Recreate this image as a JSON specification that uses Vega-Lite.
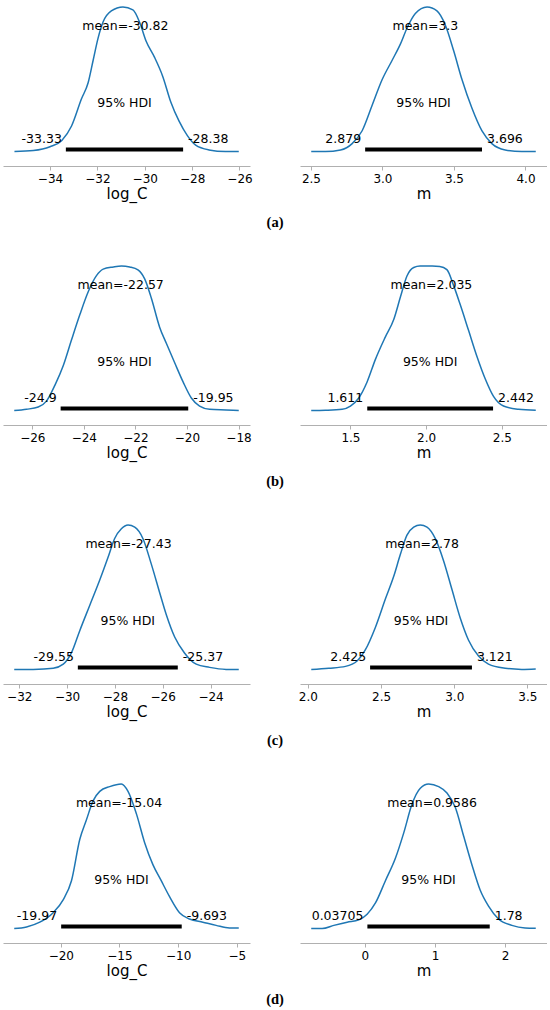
{
  "$schema": "https://vega.github.io/schema/vega-lite/v6.json",
  "background": "white",
  "padding": {"left": 3, "top": 4, "right": 0, "bottom": 0},
  "datasets": {
    "kde": [
      {"panel":"a1","x":-35.5,"density":0},{"panel":"a1","x":-34.7,"density":0.007},{"panel":"a1","x":-34.0,"density":0.033},{"panel":"a1","x":-33.5,"density":0.077},{"panel":"a1","x":-33.09,"density":0.177},{"panel":"a1","x":-32.67,"density":0.365},{"panel":"a1","x":-32.39,"density":0.476},{"panel":"a1","x":-32.18,"density":0.63},{"panel":"a1","x":-31.97,"density":0.785},{"panel":"a1","x":-31.76,"density":0.896},{"panel":"a1","x":-31.41,"density":0.973},{"panel":"a1","x":-30.92,"density":1.0},{"panel":"a1","x":-30.5,"density":0.98},{"panel":"a1","x":-30.22,"density":0.896},{"panel":"a1","x":-29.94,"density":0.763},{"panel":"a1","x":-29.59,"density":0.653},{"panel":"a1","x":-29.24,"density":0.52},{"panel":"a1","x":-28.9,"density":0.343},{"panel":"a1","x":-28.55,"density":0.21},{"panel":"a1","x":-28.2,"density":0.11},{"panel":"a1","x":-27.85,"density":0.044},{"panel":"a1","x":-27.29,"density":0.011},{"panel":"a1","x":-26.59,"density":0},{"panel":"a1","x":-26.03,"density":0},
      {"panel":"a2","x":2.502,"density":0},{"panel":"a2","x":2.602,"density":0},{"panel":"a2","x":2.707,"density":0.011},{"panel":"a2","x":2.788,"density":0.055},{"panel":"a2","x":2.858,"density":0.144},{"panel":"a2","x":2.928,"density":0.32},{"panel":"a2","x":2.998,"density":0.498},{"panel":"a2","x":3.067,"density":0.63},{"panel":"a2","x":3.126,"density":0.745},{"panel":"a2","x":3.172,"density":0.855},{"panel":"a2","x":3.23,"density":0.955},{"panel":"a2","x":3.312,"density":1.0},{"panel":"a2","x":3.381,"density":0.973},{"panel":"a2","x":3.44,"density":0.874},{"panel":"a2","x":3.498,"density":0.697},{"panel":"a2","x":3.556,"density":0.498},{"panel":"a2","x":3.626,"density":0.299},{"panel":"a2","x":3.695,"density":0.144},{"panel":"a2","x":3.765,"density":0.055},{"panel":"a2","x":3.858,"density":0.011},{"panel":"a2","x":3.974,"density":0},{"panel":"a2","x":4.072,"density":0},
      {"panel":"b1","x":-26.7,"density":0},{"panel":"b1","x":-26.22,"density":0.009},{"panel":"b1","x":-25.77,"density":0.024},{"panel":"b1","x":-25.45,"density":0.065},{"panel":"b1","x":-25.12,"density":0.176},{"panel":"b1","x":-24.8,"density":0.31},{"panel":"b1","x":-24.48,"density":0.488},{"panel":"b1","x":-24.15,"density":0.666},{"panel":"b1","x":-23.83,"density":0.822},{"panel":"b1","x":-23.51,"density":0.933},{"panel":"b1","x":-23.25,"density":0.978},{"panel":"b1","x":-22.86,"density":0.993},{"panel":"b1","x":-22.54,"density":1.0},{"panel":"b1","x":-22.22,"density":0.993},{"panel":"b1","x":-21.9,"density":0.973},{"panel":"b1","x":-21.64,"density":0.911},{"panel":"b1","x":-21.38,"density":0.777},{"panel":"b1","x":-21.06,"density":0.577},{"panel":"b1","x":-20.8,"density":0.465},{"panel":"b1","x":-20.48,"density":0.332},{"panel":"b1","x":-20.15,"density":0.198},{"panel":"b1","x":-19.83,"density":0.087},{"panel":"b1","x":-19.51,"density":0.031},{"panel":"b1","x":-19.12,"density":0.009},{"panel":"b1","x":-18.48,"density":0.004},{"panel":"b1","x":-17.99,"density":0},
      {"panel":"b2","x":1.241,"density":0},{"panel":"b2","x":1.335,"density":0.002},{"panel":"b2","x":1.445,"density":0.009},{"panel":"b2","x":1.5,"density":0.031},{"panel":"b2","x":1.555,"density":0.087},{"panel":"b2","x":1.61,"density":0.198},{"panel":"b2","x":1.665,"density":0.354},{"panel":"b2","x":1.731,"density":0.51},{"panel":"b2","x":1.786,"density":0.63},{"panel":"b2","x":1.83,"density":0.785},{"panel":"b2","x":1.874,"density":0.933},{"panel":"b2","x":1.918,"density":0.99},{"panel":"b2","x":1.96,"density":1.0},{"panel":"b2","x":2.04,"density":1.0},{"panel":"b2","x":2.09,"density":0.997},{"panel":"b2","x":2.137,"density":0.975},{"panel":"b2","x":2.181,"density":0.866},{"panel":"b2","x":2.225,"density":0.733},{"panel":"b2","x":2.28,"density":0.555},{"panel":"b2","x":2.335,"density":0.376},{"panel":"b2","x":2.39,"density":0.22},{"panel":"b2","x":2.445,"density":0.098},{"panel":"b2","x":2.511,"density":0.031},{"panel":"b2","x":2.61,"density":0.009},{"panel":"b2","x":2.724,"density":0.002},
      {"panel":"c1","x":-32.21,"density":0},{"panel":"c1","x":-31.42,"density":0.001},{"panel":"c1","x":-30.58,"density":0.009},{"panel":"c1","x":-30.16,"density":0.037},{"panel":"c1","x":-29.82,"density":0.115},{"panel":"c1","x":-29.47,"density":0.269},{"panel":"c1","x":-29.05,"density":0.445},{"panel":"c1","x":-28.63,"density":0.621},{"panel":"c1","x":-28.29,"density":0.775},{"panel":"c1","x":-28.01,"density":0.907},{"panel":"c1","x":-27.73,"density":0.974},{"panel":"c1","x":-27.45,"density":1.0},{"panel":"c1","x":-27.17,"density":0.985},{"panel":"c1","x":-26.83,"density":0.907},{"panel":"c1","x":-26.48,"density":0.731},{"panel":"c1","x":-26.13,"density":0.533},{"panel":"c1","x":-25.85,"density":0.379},{"panel":"c1","x":-25.5,"density":0.225},{"panel":"c1","x":-25.09,"density":0.115},{"panel":"c1","x":-24.6,"density":0.037},{"panel":"c1","x":-24.04,"density":0.015},{"panel":"c1","x":-23.35,"density":0.001},{"panel":"c1","x":-22.82,"density":0},
      {"panel":"c2","x":2.023,"density":0},{"panel":"c2","x":2.143,"density":0.009},{"panel":"c2","x":2.257,"density":0.022},{"panel":"c2","x":2.336,"density":0.059},{"panel":"c2","x":2.393,"density":0.137},{"panel":"c2","x":2.461,"density":0.291},{"panel":"c2","x":2.53,"density":0.489},{"panel":"c2","x":2.586,"density":0.643},{"panel":"c2","x":2.632,"density":0.797},{"panel":"c2","x":2.677,"density":0.93},{"panel":"c2","x":2.723,"density":0.985},{"panel":"c2","x":2.768,"density":1.0},{"panel":"c2","x":2.814,"density":0.985},{"panel":"c2","x":2.87,"density":0.907},{"panel":"c2","x":2.927,"density":0.753},{"panel":"c2","x":2.984,"density":0.555},{"panel":"c2","x":3.041,"density":0.357},{"panel":"c2","x":3.098,"density":0.203},{"panel":"c2","x":3.166,"density":0.093},{"panel":"c2","x":3.234,"density":0.037},{"panel":"c2","x":3.348,"density":0.009},{"panel":"c2","x":3.461,"density":0.001},{"panel":"c2","x":3.557,"density":0.004},
      {"panel":"d1","x":-23.97,"density":0},{"panel":"d1","x":-22.92,"density":0.011},{"panel":"d1","x":-21.79,"density":0.044},{"panel":"d1","x":-20.65,"density":0.11},{"panel":"d1","x":-19.8,"density":0.199},{"panel":"d1","x":-19.09,"density":0.331},{"panel":"d1","x":-18.38,"density":0.618},{"panel":"d1","x":-17.82,"density":0.751},{"panel":"d1","x":-17.25,"density":0.883},{"panel":"d1","x":-16.68,"density":0.949},{"panel":"d1","x":-15.83,"density":0.982},{"panel":"d1","x":-14.84,"density":1.0},{"panel":"d1","x":-14.27,"density":0.949},{"panel":"d1","x":-13.56,"density":0.795},{"panel":"d1","x":-12.86,"density":0.596},{"panel":"d1","x":-12.15,"density":0.442},{"panel":"d1","x":-11.44,"density":0.331},{"panel":"d1","x":-10.73,"density":0.221},{"panel":"d1","x":-9.88,"density":0.11},{"panel":"d1","x":-9.03,"density":0.066},{"panel":"d1","x":-7.89,"density":0.044},{"panel":"d1","x":-6.76,"density":0.022},{"panel":"d1","x":-5.63,"density":0.004},{"panel":"d1","x":-4.83,"density":0.004},
      {"panel":"d2","x":-0.763,"density":0},{"panel":"d2","x":-0.607,"density":0},{"panel":"d2","x":-0.441,"density":0.022},{"panel":"d2","x":-0.251,"density":0.044},{"panel":"d2","x":-0.085,"density":0.06},{"panel":"d2","x":0.033,"density":0.099},{"panel":"d2","x":0.152,"density":0.177},{"panel":"d2","x":0.294,"density":0.331},{"panel":"d2","x":0.436,"density":0.486},{"panel":"d2","x":0.555,"density":0.662},{"panel":"d2","x":0.673,"density":0.861},{"panel":"d2","x":0.791,"density":0.971},{"panel":"d2","x":0.91,"density":1.0},{"panel":"d2","x":1.052,"density":0.982},{"panel":"d2","x":1.171,"density":0.938},{"panel":"d2","x":1.289,"density":0.839},{"panel":"d2","x":1.408,"density":0.64},{"panel":"d2","x":1.526,"density":0.442},{"panel":"d2","x":1.645,"density":0.265},{"panel":"d2","x":1.763,"density":0.155},{"panel":"d2","x":1.905,"density":0.066},{"panel":"d2","x":2.095,"density":0.022},{"panel":"d2","x":2.284,"density":0.004},{"panel":"d2","x":2.436,"density":0.002}
    ],
    "stats": [
      {"panel":"a1","mean":-30.82,"lo":-33.33,"hi":-28.38,"mid":-30.855,"meanLabel":"mean=-30.82","loLabel":"-33.33","hiLabel":"-28.38"},
      {"panel":"a2","mean":3.3,"lo":2.879,"hi":3.696,"mid":3.2875,"meanLabel":"mean=3.3","loLabel":"2.879","hiLabel":"3.696"},
      {"panel":"b1","mean":-22.57,"lo":-24.9,"hi":-19.95,"mid":-22.425,"meanLabel":"mean=-22.57","loLabel":"-24.9","hiLabel":"-19.95"},
      {"panel":"b2","mean":2.035,"lo":1.611,"hi":2.442,"mid":2.0265,"meanLabel":"mean=2.035","loLabel":"1.611","hiLabel":"2.442"},
      {"panel":"c1","mean":-27.43,"lo":-29.55,"hi":-25.37,"mid":-27.46,"meanLabel":"mean=-27.43","loLabel":"-29.55","hiLabel":"-25.37"},
      {"panel":"c2","mean":2.78,"lo":2.425,"hi":3.121,"mid":2.773,"meanLabel":"mean=2.78","loLabel":"2.425","hiLabel":"3.121"},
      {"panel":"d1","mean":-15.04,"lo":-19.97,"hi":-9.693,"mid":-14.8315,"meanLabel":"mean=-15.04","loLabel":"-19.97","hiLabel":"-9.693"},
      {"panel":"d2","mean":0.9586,"lo":0.03705,"hi":1.78,"mid":0.9085,"meanLabel":"mean=0.9586","loLabel":"0.03705","hiLabel":"1.78"}
    ]
  },
  "vconcat": [
    {
      "title": {"text": "(a)", "orient": "bottom", "anchor": "middle", "offset": 15},
      "bounds": "flush", "spacing": 50,
      "hconcat": [
        {"width": 247, "height": 159, "layer": [
          {"data":{"name":"kde"},"transform":[{"filter":"datum.panel === 'a1'"}],"mark":{"type":"line","color":"#1f77b4","strokeWidth":1.5,"interpolate":"monotone"},"encoding":{"x":{"field":"x","type":"quantitative","scale":{"domain":[-35.984,-25.556],"nice":false,"zero":false},"axis":{"values":[-34,-32,-30,-28,-26],"format":"d","title":"log_C"}},"y":{"field":"density","type":"quantitative","scale":{"domain":[-0.05,1]},"axis":null}}},
          {"data":{"name":"stats"},"transform":[{"filter":"datum.panel === 'a1'"}],"mark":{"type":"rule","color":"black","strokeWidth":4,"strokeCap":"butt"},"encoding":{"x":{"field":"lo","type":"quantitative"},"x2":{"field":"hi"},"y":{"datum":0.015}}},
          {"data":{"name":"stats"},"transform":[{"filter":"datum.panel === 'a1'"}],"mark":{"type":"text","baseline":"middle","align":"center"},"encoding":{"x":{"field":"mean","type":"quantitative"},"y":{"datum":0.867},"text":{"field":"meanLabel"}}},
          {"data":{"name":"stats"},"transform":[{"filter":"datum.panel === 'a1'"}],"mark":{"type":"text","baseline":"middle","align":"center"},"encoding":{"x":{"field":"mid","type":"quantitative"},"y":{"datum":0.333},"text":{"value":"95% HDI"}}},
          {"data":{"name":"stats"},"transform":[{"filter":"datum.panel === 'a1'"}],"mark":{"type":"text","baseline":"middle","align":"right","dx":-4},"encoding":{"x":{"field":"lo","type":"quantitative"},"y":{"datum":0.09},"text":{"field":"loLabel"}}},
          {"data":{"name":"stats"},"transform":[{"filter":"datum.panel === 'a1'"}],"mark":{"type":"text","baseline":"middle","align":"left","dx":5},"encoding":{"x":{"field":"hi","type":"quantitative"},"y":{"datum":0.09},"text":{"field":"hiLabel"}}}
        ]},
        {"width": 247, "height": 159, "layer": [
          {"data":{"name":"kde"},"transform":[{"filter":"datum.panel === 'a2'"}],"mark":{"type":"line","color":"#1f77b4","strokeWidth":1.5,"interpolate":"monotone"},"encoding":{"x":{"field":"x","type":"quantitative","scale":{"domain":[2.4235,4.1505],"nice":false,"zero":false},"axis":{"values":[2.5,3.0,3.5,4.0],"format":".1f","title":"m"}},"y":{"field":"density","type":"quantitative","scale":{"domain":[-0.05,1]},"axis":null}}},
          {"data":{"name":"stats"},"transform":[{"filter":"datum.panel === 'a2'"}],"mark":{"type":"rule","color":"black","strokeWidth":4,"strokeCap":"butt"},"encoding":{"x":{"field":"lo","type":"quantitative"},"x2":{"field":"hi"},"y":{"datum":0.015}}},
          {"data":{"name":"stats"},"transform":[{"filter":"datum.panel === 'a2'"}],"mark":{"type":"text","baseline":"middle","align":"center"},"encoding":{"x":{"field":"mean","type":"quantitative"},"y":{"datum":0.867},"text":{"field":"meanLabel"}}},
          {"data":{"name":"stats"},"transform":[{"filter":"datum.panel === 'a2'"}],"mark":{"type":"text","baseline":"middle","align":"center"},"encoding":{"x":{"field":"mid","type":"quantitative"},"y":{"datum":0.333},"text":{"value":"95% HDI"}}},
          {"data":{"name":"stats"},"transform":[{"filter":"datum.panel === 'a2'"}],"mark":{"type":"text","baseline":"middle","align":"right","dx":-4},"encoding":{"x":{"field":"lo","type":"quantitative"},"y":{"datum":0.09},"text":{"field":"loLabel"}}},
          {"data":{"name":"stats"},"transform":[{"filter":"datum.panel === 'a2'"}],"mark":{"type":"text","baseline":"middle","align":"left","dx":5},"encoding":{"x":{"field":"hi","type":"quantitative"},"y":{"datum":0.09},"text":{"field":"hiLabel"}}}
        ]}
      ]
    },
    {
      "title": {"text": "(b)", "orient": "bottom", "anchor": "middle", "offset": 15},
      "bounds": "flush", "spacing": 50,
      "hconcat": [
        {"width": 247, "height": 159, "layer": [
          {"data":{"name":"kde"},"transform":[{"filter":"datum.panel === 'b1'"}],"mark":{"type":"line","color":"#1f77b4","strokeWidth":1.5,"interpolate":"monotone"},"encoding":{"x":{"field":"x","type":"quantitative","scale":{"domain":[-27.136,-17.554],"nice":false,"zero":false},"axis":{"values":[-26,-24,-22,-20,-18],"format":"d","title":"log_C"}},"y":{"field":"density","type":"quantitative","scale":{"domain":[-0.05,1]},"axis":null}}},
          {"data":{"name":"stats"},"transform":[{"filter":"datum.panel === 'b1'"}],"mark":{"type":"rule","color":"black","strokeWidth":4,"strokeCap":"butt"},"encoding":{"x":{"field":"lo","type":"quantitative"},"x2":{"field":"hi"},"y":{"datum":0.015}}},
          {"data":{"name":"stats"},"transform":[{"filter":"datum.panel === 'b1'"}],"mark":{"type":"text","baseline":"middle","align":"center"},"encoding":{"x":{"field":"mean","type":"quantitative"},"y":{"datum":0.867},"text":{"field":"meanLabel"}}},
          {"data":{"name":"stats"},"transform":[{"filter":"datum.panel === 'b1'"}],"mark":{"type":"text","baseline":"middle","align":"center"},"encoding":{"x":{"field":"mid","type":"quantitative"},"y":{"datum":0.333},"text":{"value":"95% HDI"}}},
          {"data":{"name":"stats"},"transform":[{"filter":"datum.panel === 'b1'"}],"mark":{"type":"text","baseline":"middle","align":"right","dx":-4},"encoding":{"x":{"field":"lo","type":"quantitative"},"y":{"datum":0.09},"text":{"field":"loLabel"}}},
          {"data":{"name":"stats"},"transform":[{"filter":"datum.panel === 'b1'"}],"mark":{"type":"text","baseline":"middle","align":"left","dx":5},"encoding":{"x":{"field":"hi","type":"quantitative"},"y":{"datum":0.09},"text":{"field":"hiLabel"}}}
        ]},
        {"width": 247, "height": 159, "layer": [
          {"data":{"name":"kde"},"transform":[{"filter":"datum.panel === 'b2'"}],"mark":{"type":"line","color":"#1f77b4","strokeWidth":1.5,"interpolate":"monotone"},"encoding":{"x":{"field":"x","type":"quantitative","scale":{"domain":[1.1669,2.7982],"nice":false,"zero":false},"axis":{"values":[1.5,2.0,2.5],"format":".1f","title":"m"}},"y":{"field":"density","type":"quantitative","scale":{"domain":[-0.05,1]},"axis":null}}},
          {"data":{"name":"stats"},"transform":[{"filter":"datum.panel === 'b2'"}],"mark":{"type":"rule","color":"black","strokeWidth":4,"strokeCap":"butt"},"encoding":{"x":{"field":"lo","type":"quantitative"},"x2":{"field":"hi"},"y":{"datum":0.015}}},
          {"data":{"name":"stats"},"transform":[{"filter":"datum.panel === 'b2'"}],"mark":{"type":"text","baseline":"middle","align":"center"},"encoding":{"x":{"field":"mean","type":"quantitative"},"y":{"datum":0.867},"text":{"field":"meanLabel"}}},
          {"data":{"name":"stats"},"transform":[{"filter":"datum.panel === 'b2'"}],"mark":{"type":"text","baseline":"middle","align":"center"},"encoding":{"x":{"field":"mid","type":"quantitative"},"y":{"datum":0.333},"text":{"value":"95% HDI"}}},
          {"data":{"name":"stats"},"transform":[{"filter":"datum.panel === 'b2'"}],"mark":{"type":"text","baseline":"middle","align":"right","dx":-4},"encoding":{"x":{"field":"lo","type":"quantitative"},"y":{"datum":0.09},"text":{"field":"loLabel"}}},
          {"data":{"name":"stats"},"transform":[{"filter":"datum.panel === 'b2'"}],"mark":{"type":"text","baseline":"middle","align":"left","dx":5},"encoding":{"x":{"field":"hi","type":"quantitative"},"y":{"datum":0.09},"text":{"field":"hiLabel"}}}
        ]}
      ]
    },
    {
      "title": {"text": "(c)", "orient": "bottom", "anchor": "middle", "offset": 15},
      "bounds": "flush", "spacing": 50,
      "hconcat": [
        {"width": 247, "height": 159, "layer": [
          {"data":{"name":"kde"},"transform":[{"filter":"datum.panel === 'c1'"}],"mark":{"type":"line","color":"#1f77b4","strokeWidth":1.5,"interpolate":"monotone"},"encoding":{"x":{"field":"x","type":"quantitative","scale":{"domain":[-32.68,-22.35],"nice":false,"zero":false},"axis":{"values":[-32,-30,-28,-26,-24],"format":"d","title":"log_C"}},"y":{"field":"density","type":"quantitative","scale":{"domain":[-0.05,1]},"axis":null}}},
          {"data":{"name":"stats"},"transform":[{"filter":"datum.panel === 'c1'"}],"mark":{"type":"rule","color":"black","strokeWidth":4,"strokeCap":"butt"},"encoding":{"x":{"field":"lo","type":"quantitative"},"x2":{"field":"hi"},"y":{"datum":0.015}}},
          {"data":{"name":"stats"},"transform":[{"filter":"datum.panel === 'c1'"}],"mark":{"type":"text","baseline":"middle","align":"center"},"encoding":{"x":{"field":"mean","type":"quantitative"},"y":{"datum":0.867},"text":{"field":"meanLabel"}}},
          {"data":{"name":"stats"},"transform":[{"filter":"datum.panel === 'c1'"}],"mark":{"type":"text","baseline":"middle","align":"center"},"encoding":{"x":{"field":"mid","type":"quantitative"},"y":{"datum":0.333},"text":{"value":"95% HDI"}}},
          {"data":{"name":"stats"},"transform":[{"filter":"datum.panel === 'c1'"}],"mark":{"type":"text","baseline":"middle","align":"right","dx":-4},"encoding":{"x":{"field":"lo","type":"quantitative"},"y":{"datum":0.09},"text":{"field":"loLabel"}}},
          {"data":{"name":"stats"},"transform":[{"filter":"datum.panel === 'c1'"}],"mark":{"type":"text","baseline":"middle","align":"left","dx":5},"encoding":{"x":{"field":"hi","type":"quantitative"},"y":{"datum":0.09},"text":{"field":"hiLabel"}}}
        ]},
        {"width": 247, "height": 159, "layer": [
          {"data":{"name":"kde"},"transform":[{"filter":"datum.panel === 'c2'"}],"mark":{"type":"line","color":"#1f77b4","strokeWidth":1.5,"interpolate":"monotone"},"encoding":{"x":{"field":"x","type":"quantitative","scale":{"domain":[1.946,3.634],"nice":false,"zero":false},"axis":{"values":[2.0,2.5,3.0,3.5],"format":".1f","title":"m"}},"y":{"field":"density","type":"quantitative","scale":{"domain":[-0.05,1]},"axis":null}}},
          {"data":{"name":"stats"},"transform":[{"filter":"datum.panel === 'c2'"}],"mark":{"type":"rule","color":"black","strokeWidth":4,"strokeCap":"butt"},"encoding":{"x":{"field":"lo","type":"quantitative"},"x2":{"field":"hi"},"y":{"datum":0.015}}},
          {"data":{"name":"stats"},"transform":[{"filter":"datum.panel === 'c2'"}],"mark":{"type":"text","baseline":"middle","align":"center"},"encoding":{"x":{"field":"mean","type":"quantitative"},"y":{"datum":0.867},"text":{"field":"meanLabel"}}},
          {"data":{"name":"stats"},"transform":[{"filter":"datum.panel === 'c2'"}],"mark":{"type":"text","baseline":"middle","align":"center"},"encoding":{"x":{"field":"mid","type":"quantitative"},"y":{"datum":0.333},"text":{"value":"95% HDI"}}},
          {"data":{"name":"stats"},"transform":[{"filter":"datum.panel === 'c2'"}],"mark":{"type":"text","baseline":"middle","align":"right","dx":-4},"encoding":{"x":{"field":"lo","type":"quantitative"},"y":{"datum":0.09},"text":{"field":"loLabel"}}},
          {"data":{"name":"stats"},"transform":[{"filter":"datum.panel === 'c2'"}],"mark":{"type":"text","baseline":"middle","align":"left","dx":5},"encoding":{"x":{"field":"hi","type":"quantitative"},"y":{"datum":0.09},"text":{"field":"hiLabel"}}}
        ]}
      ]
    },
    {
      "title": {"text": "(d)", "orient": "bottom", "anchor": "middle", "offset": 15},
      "bounds": "flush", "spacing": 50,
      "hconcat": [
        {"width": 247, "height": 159, "layer": [
          {"data":{"name":"kde"},"transform":[{"filter":"datum.panel === 'd1'"}],"mark":{"type":"line","color":"#1f77b4","strokeWidth":1.5,"interpolate":"monotone"},"encoding":{"x":{"field":"x","type":"quantitative","scale":{"domain":[-24.927,-3.873],"nice":false,"zero":false},"axis":{"values":[-20,-15,-10,-5],"format":"d","title":"log_C"}},"y":{"field":"density","type":"quantitative","scale":{"domain":[-0.05,1]},"axis":null}}},
          {"data":{"name":"stats"},"transform":[{"filter":"datum.panel === 'd1'"}],"mark":{"type":"rule","color":"black","strokeWidth":4,"strokeCap":"butt"},"encoding":{"x":{"field":"lo","type":"quantitative"},"x2":{"field":"hi"},"y":{"datum":0.015}}},
          {"data":{"name":"stats"},"transform":[{"filter":"datum.panel === 'd1'"}],"mark":{"type":"text","baseline":"middle","align":"center"},"encoding":{"x":{"field":"mean","type":"quantitative"},"y":{"datum":0.867},"text":{"field":"meanLabel"}}},
          {"data":{"name":"stats"},"transform":[{"filter":"datum.panel === 'd1'"}],"mark":{"type":"text","baseline":"middle","align":"center"},"encoding":{"x":{"field":"mid","type":"quantitative"},"y":{"datum":0.333},"text":{"value":"95% HDI"}}},
          {"data":{"name":"stats"},"transform":[{"filter":"datum.panel === 'd1'"}],"mark":{"type":"text","baseline":"middle","align":"right","dx":-4},"encoding":{"x":{"field":"lo","type":"quantitative"},"y":{"datum":0.09},"text":{"field":"loLabel"}}},
          {"data":{"name":"stats"},"transform":[{"filter":"datum.panel === 'd1'"}],"mark":{"type":"text","baseline":"middle","align":"left","dx":5},"encoding":{"x":{"field":"hi","type":"quantitative"},"y":{"datum":0.09},"text":{"field":"hiLabel"}}}
        ]},
        {"width": 247, "height": 159, "layer": [
          {"data":{"name":"kde"},"transform":[{"filter":"datum.panel === 'd2'"}],"mark":{"type":"line","color":"#1f77b4","strokeWidth":1.5,"interpolate":"monotone"},"encoding":{"x":{"field":"x","type":"quantitative","scale":{"domain":[-0.923,2.596],"nice":false,"zero":false},"axis":{"values":[0,1,2],"format":"d","title":"m"}},"y":{"field":"density","type":"quantitative","scale":{"domain":[-0.05,1]},"axis":null}}},
          {"data":{"name":"stats"},"transform":[{"filter":"datum.panel === 'd2'"}],"mark":{"type":"rule","color":"black","strokeWidth":4,"strokeCap":"butt"},"encoding":{"x":{"field":"lo","type":"quantitative"},"x2":{"field":"hi"},"y":{"datum":0.015}}},
          {"data":{"name":"stats"},"transform":[{"filter":"datum.panel === 'd2'"}],"mark":{"type":"text","baseline":"middle","align":"center"},"encoding":{"x":{"field":"mean","type":"quantitative"},"y":{"datum":0.867},"text":{"field":"meanLabel"}}},
          {"data":{"name":"stats"},"transform":[{"filter":"datum.panel === 'd2'"}],"mark":{"type":"text","baseline":"middle","align":"center"},"encoding":{"x":{"field":"mid","type":"quantitative"},"y":{"datum":0.333},"text":{"value":"95% HDI"}}},
          {"data":{"name":"stats"},"transform":[{"filter":"datum.panel === 'd2'"}],"mark":{"type":"text","baseline":"middle","align":"right","dx":-4},"encoding":{"x":{"field":"lo","type":"quantitative"},"y":{"datum":0.09},"text":{"field":"loLabel"}}},
          {"data":{"name":"stats"},"transform":[{"filter":"datum.panel === 'd2'"}],"mark":{"type":"text","baseline":"middle","align":"left","dx":5},"encoding":{"x":{"field":"hi","type":"quantitative"},"y":{"datum":0.09},"text":{"field":"hiLabel"}}}
        ]}
      ]
    }
  ],
  "spacing": 33,
  "config": {
    "view": {"stroke": null},
    "font": "DejaVu Sans",
    "axis": {"domainColor": "#b0b0b0", "tickColor": "#b0b0b0", "labelColor": "#000000", "titleColor": "#000000", "labelFont": "DejaVu Sans", "titleFont": "DejaVu Sans", "labelFontSize": 12, "titleFontSize": 15, "titleFontWeight": "normal", "tickSize": 4, "labelPadding": 3, "titlePadding": 2, "grid": false, "labelFlush": false, "labelOverlap": false, "domainWidth": 1},
    "text": {"font": "DejaVu Sans", "fontSize": 12.5, "color": "#000000"},
    "title": {"font": "Liberation Serif", "fontSize": 14.5, "fontWeight": "bold", "color": "#000000"}
  }
}
